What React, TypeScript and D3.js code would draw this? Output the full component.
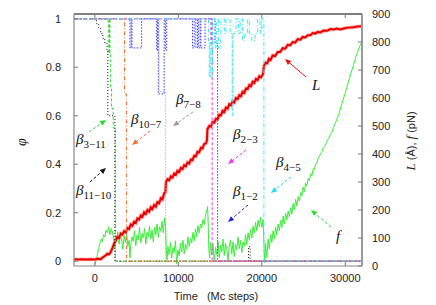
import React from 'react';
import * as d3 from 'd3';

// time axis (Mc steps)
const timeTicks = [0, 10000, 20000, 30000];
const phiTicks = [0, 0.2, 0.4, 0.6, 0.8, 1];
const rightTicks = [0, 100, 200, 300, 400, 500, 600, 700, 800, 900];

// L (Angstrom) vs time
const lengthData: [number, number][] = [
  [-2500, 24], [-2000, 23], [-1500, 24], [-1000, 23], [-500, 24], [0, 23], [400, 26], [700, 24],
  [900, 30], [1100, 34], [1300, 38], [1500, 44], [1700, 42], [1900, 50], [2100, 64], [2300, 80],
  [2500, 90], [2700, 104], [2900, 100], [3100, 116], [3300, 112], [3500, 124], [3700, 120],
  [3900, 136], [4100, 132], [4300, 148], [4500, 144], [4700, 158], [4900, 154], [5100, 170],
  [5300, 166], [5500, 180], [5700, 176], [5900, 192], [6100, 186], [6300, 200], [6500, 194],
  [6700, 210], [6900, 204], [7100, 218], [7300, 212], [7500, 228], [7700, 224], [7900, 242],
  [8100, 238], [8300, 260], [8450, 264], [8520, 300], [8700, 310], [8900, 306], [9100, 320],
  [9300, 316], [9500, 330], [9700, 326], [9900, 340], [10100, 336], [10300, 350], [10500, 346],
  [10700, 360], [10900, 356], [11100, 370], [11300, 366], [11500, 380], [11700, 378],
  [11900, 394], [12100, 392], [12300, 408], [12500, 406], [12700, 422], [12900, 420],
  [13100, 436], [13300, 438], [13420, 448], [13480, 488], [13700, 500], [13900, 498],
  [14100, 514], [14300, 512], [14500, 526], [14700, 524], [14900, 540], [15100, 538],
  [15300, 554], [15500, 550], [15700, 566], [15900, 562], [16100, 578], [16300, 574],
  [16500, 588], [16700, 584], [16900, 600], [17100, 596], [17300, 610], [17500, 606],
  [17700, 622], [17900, 618], [18100, 634], [18300, 632], [18500, 646], [18700, 642],
  [18900, 658], [19100, 654], [19300, 668], [19500, 664], [19700, 678], [19900, 674],
  [20150, 686], [20250, 714], [20450, 726], [20650, 724], [20850, 740], [21050, 736],
  [21300, 752], [21600, 750], [21900, 764], [22200, 764], [22500, 778], [22800, 776],
  [23100, 790], [23400, 788], [23700, 800], [24000, 798], [24300, 810], [24600, 808],
  [24900, 818], [25200, 816], [25500, 824], [25800, 824], [26100, 832], [26400, 830],
  [26700, 836], [27000, 834], [27400, 841], [27800, 840], [28200, 846], [28600, 845],
  [29000, 848], [29400, 845], [29800, 848], [30200, 851], [30600, 852], [31000, 853],
  [31400, 855], [32000, 856],
];

// f (pN) vs time
const forceData: [number, number][] = [
  [0, 5], [150, 20], [300, 40], [450, 62], [600, 80], [750, 96], [900, 88], [1050, 112],
  [1200, 104], [1350, 128], [1500, 118], [1650, 140], [1800, 112], [1950, 134], [2100, 122],
  [2250, 98], [2350, 62], [2450, 104], [2600, 86], [2750, 122], [2900, 78], [3050, 112],
  [3200, 96], [3350, 60], [3500, 108], [3650, 84], [3800, 118], [3950, 70], [4100, 92],
  [4200, 28], [4300, 76], [4450, 104], [4600, 88], [4750, 126], [4900, 72], [5050, 110],
  [5200, 94], [5350, 138], [5500, 82], [5650, 116], [5800, 100], [5950, 134], [6100, 78],
  [6250, 120], [6400, 104], [6550, 142], [6700, 96], [6850, 128], [7000, 86], [7150, 138],
  [7300, 112], [7450, 150], [7600, 102], [7750, 140], [7900, 124], [8050, 160], [8200, 118],
  [8350, 172], [8480, 140], [8550, 60], [8650, 22], [8750, 70], [8900, 40], [9050, 84],
  [9200, 28], [9350, 66], [9500, 48], [9650, 90], [9800, 8], [9950, 58], [10100, 36],
  [10250, 82], [10400, 50], [10550, 92], [10700, 44], [10850, 78], [11000, 60], [11150, 104],
  [11300, 70], [11450, 98], [11600, 82], [11750, 120], [11900, 90], [12050, 132], [12200, 104],
  [12350, 144], [12500, 118], [12650, 150], [12800, 136], [12950, 166], [13100, 148],
  [13250, 182], [13400, 196], [13500, 212], [13580, 150], [13650, 60], [13750, 28],
  [13850, 84], [14000, 40], [14150, 78], [14300, 18], [14450, 66], [14600, 40], [14750, 88],
  [14900, 30], [15050, 74], [15200, 50], [15350, 96], [15500, 38], [15650, 82], [15800, 60],
  [15950, 20], [16100, 70], [16250, 92], [16400, 44], [16550, 86], [16700, 34], [16850, 78],
  [17000, 58], [17150, 104], [17300, 62], [17450, 92], [17600, 48], [17750, 86], [17900, 70],
  [18050, 112], [18200, 76], [18350, 118], [18500, 92], [18650, 130], [18800, 100],
  [18950, 142], [19100, 118], [19250, 156], [19400, 126], [19550, 164], [19700, 140],
  [19850, 174], [20000, 138], [20150, 166], [20280, 60], [20350, 12], [20450, 80], [20600, 30],
  [20750, 96], [20900, 60], [21050, 112], [21200, 84], [21350, 126], [21500, 96], [21650, 140],
  [21800, 110], [21950, 150], [22100, 126], [22250, 162], [22400, 138], [22550, 178],
  [22700, 150], [22850, 188], [23000, 164], [23150, 196], [23300, 176], [23450, 208],
  [23600, 186], [23750, 224], [23900, 200], [24050, 238], [24200, 214], [24350, 248],
  [24500, 232], [24650, 262], [24800, 250], [24950, 282], [25100, 266], [25250, 296],
  [25400, 286], [25550, 312], [25700, 304], [25850, 330], [26000, 322], [26150, 348],
  [26300, 344], [26450, 366], [26600, 368], [26750, 386], [26900, 392], [27050, 402],
  [27200, 408], [27400, 425], [27600, 430], [27800, 445], [28000, 455], [28200, 470],
  [28400, 478], [28600, 495], [28800, 510], [29000, 525], [29200, 540], [29400, 560],
  [29600, 580], [29800, 600], [30000, 618], [30200, 640], [30400, 660], [30600, 680],
  [30800, 700], [31000, 720], [31200, 740], [31400, 760], [31600, 775], [31800, 790],
  [32000, 800],
];

// fraction of native contacts phi for each beta pair (step data)
const beta311: [number, number][] = [
  [-2500, 1], [1600, 0.86], [1750, 1], [1800, 0.86], [1900, 0.71], [2000, 0.63], [2200, 0.55],
  [2450, 0], [32000, 0],
];
const beta1110: [number, number][] = [
  [-2500, 1], [200, 0.98], [450, 0.96], [700, 0.94], [950, 0.92], [1200, 0.9], [1450, 0.87],
  [1550, 0.6], [2400, 0], [18400, 0.06], [18600, 0], [32000, 0],
];
const beta107: [number, number][] = [[-2500, 1], [3550, 0.69], [3780, 0], [32000, 0]];
const beta78: [number, number][] = [[-2500, 1], [7700, 0.7], [8450, 0], [32000, 0]];
const beta12: [number, number][] = [
  [-2500, 1], [4200, 0.88], [4350, 1], [4450, 0.88], [5600, 1], [7400, 0.87], [7500, 1],
  [7600, 0.69], [8300, 1], [8450, 0.87], [8600, 1], [11700, 0.88], [11900, 1], [12100, 0.88],
  [12300, 1], [12400, 0.88], [12600, 1], [12700, 0.88], [13200, 1], [14400, 0.9], [14700, 0],
  [32000, 0],
];
const beta23: [number, number][] = [[-2500, 1], [13900, 0.9], [14000, 1], [14050, 0], [32000, 0]];
const beta45: [number, number][] = [
  [-2500, 1], [13600, 0.9], [13700, 0.76], [13800, 0.9], [13900, 0.76], [14100, 1],
  [14400, 0.88], [14600, 1], [14800, 0.88], [15100, 1], [15500, 0.94], [15700, 1],
  [16200, 0.94], [16450, 0.6], [16550, 0.94], [16900, 1], [17200, 0.94], [17400, 1],
  [17700, 0.91], [17900, 0.94], [18300, 1], [18500, 0.94], [18800, 0.91], [19200, 0.94],
  [19500, 1], [19800, 0.94], [20000, 1], [20250, 0], [32000, 0],
];

const W = 436;
const H = 305;
const plot = { left: 74, right: 362, top: 14, bottom: 266 };

const xScale = d3.scaleLinear().domain([-2500, 32000]).range([plot.left, plot.right]);
const phiScale = d3.scaleLinear().domain([-0.02, 1.02]).range([plot.bottom, plot.top]);
const rScale = d3.scaleLinear().domain([0, 900]).range([plot.bottom, plot.top]);

const stepLine = d3.line<[number, number]>()
  .x(d => xScale(d[0]))
  .y(d => phiScale(d[1]))
  .curve(d3.curveStepAfter);

const rLine = d3.line<[number, number]>()
  .x(d => xScale(d[0]))
  .y(d => rScale(d[1]));

const betaSeries = [
  { data: beta311, color: '#22dd22', dash: '3,2' },
  { data: beta1110, color: '#111111', dash: '1,2' },
  { data: beta12, color: '#3a3aff', dash: '1.5,1.5' },
  { data: beta78, color: '#999999', dash: '1,2' },
  { data: beta23, color: '#ff33ff', dash: '3,2' },
  { data: beta107, color: '#ff6a33', dash: '4,2,1,2' },
  { data: beta45, color: '#33e8f0', dash: '4,2,1,2' },
];

// annotation labels: text position and arrow (from -> to), in pixels
const notes = [
  { label: 'β', sub: '3−11', tx: 76, ty: 144, a: [89, 132, 106, 120], color: '#22dd22', dash: '3,2' },
  { label: 'β', sub: '11−10', tx: 76, ty: 195, a: [90, 182, 106, 168], color: '#111111', dash: '3,2' },
  { label: 'β', sub: '10−7', tx: 131, ty: 124, a: [150, 131, 132, 145], color: '#ff6a33', dash: '3,2' },
  { label: 'β', sub: '7−8', tx: 176, ty: 104, a: [193, 112, 173, 126], color: '#999999', dash: '3,2' },
  { label: 'L', sub: '', tx: 312, ty: 90, a: [306, 77, 285, 59], color: '#ee1111', dash: '' },
  { label: 'β', sub: '2−3', tx: 233, ty: 139, a: [246, 150, 228, 164], color: '#ff33ff', dash: '3,2' },
  { label: 'β', sub: '1−2', tx: 233, ty: 196, a: [248, 205, 228, 222], color: '#2020dd', dash: '3,2' },
  { label: 'β', sub: '4−5', tx: 276, ty: 167, a: [291, 177, 271, 193], color: '#22ddee', dash: '3,2' },
  { label: 'f', sub: '', tx: 336, ty: 241, a: [331, 227, 311, 210], color: '#22dd22', dash: '3,2' },
];

const serif = "'Liberation Serif', 'DejaVu Serif', serif";
const sans = "'Liberation Sans', Arial, sans-serif";

function Arrow({ a, color, dash }: { a: number[]; color: string; dash: string }) {
  const [x1, y1, x2, y2] = a;
  const ang = Math.atan2(y2 - y1, x2 - x1);
  const len = 6;
  const wid = 2.6;
  const bx = x2 - len * Math.cos(ang);
  const by = y2 - len * Math.sin(ang);
  const px = -Math.sin(ang) * wid;
  const py = Math.cos(ang) * wid;
  return (
    <g>
      <line x1={x1} y1={y1} x2={bx} y2={by} stroke={color} strokeWidth={1} strokeDasharray={dash || undefined} />
      <polygon points={`${x2},${y2} ${bx + px},${by + py} ${bx - px},${by - py}`} fill={color} />
    </g>
  );
}

export default function App() {
  return (
    <svg width={W} height={H} style={{ position: 'absolute', left: 0, top: 0, background: '#fff' }}>
      <defs>
        <clipPath id="plotClip">
          <rect x={plot.left} y={plot.top} width={plot.right - plot.left} height={plot.bottom - plot.top} />
        </clipPath>
      </defs>

      <g clipPath="url(#plotClip)">
        {/* force */}
        <path d={rLine(forceData) || ''} fill="none" stroke="#3aee3a" strokeWidth={1} />
        {/* length band */}
        <path d={rLine(lengthData) || ''} fill="none" stroke="#ff7a7a" strokeWidth={3.6} strokeOpacity={0.6} />
        <path d={rLine(lengthData) || ''} fill="none" stroke="#ee0000" strokeWidth={2} />
        {/* beta contacts */}
        {betaSeries.map((s, i) => (
          <path key={i} d={stepLine(s.data) || ''} fill="none" stroke={s.color} strokeWidth={1} strokeDasharray={s.dash} />
        ))}
      </g>

      {/* frame */}
      <line x1={plot.left} y1={plot.top} x2={plot.right} y2={plot.top} stroke="#000" strokeWidth={1} />
      <line x1={plot.left} y1={plot.top} x2={plot.left} y2={plot.bottom} stroke="#888" strokeWidth={1.2} />
      <line x1={plot.left} y1={plot.bottom} x2={plot.right} y2={plot.bottom} stroke="#888" strokeWidth={1.2} />
      <line x1={plot.right} y1={plot.top} x2={plot.right} y2={plot.bottom} stroke="#999" strokeWidth={2} />

      {/* x ticks */}
      {timeTicks.map(t => (
        <g key={t}>
          <line x1={xScale(t)} x2={xScale(t)} y1={plot.bottom} y2={plot.bottom - 4} stroke="#777" />
          <line x1={xScale(t)} x2={xScale(t)} y1={plot.top} y2={plot.top + 4} stroke="#777" />
          <text x={xScale(t)} y={plot.bottom + 16} textAnchor="middle" fontFamily={sans} fontSize={11} fill="#222">{t}</text>
        </g>
      ))}

      {/* left ticks */}
      {phiTicks.map(p => (
        <g key={p}>
          <line x1={plot.left} x2={plot.left + 4} y1={phiScale(p)} y2={phiScale(p)} stroke="#777" />
          <text x={plot.left - 13} y={phiScale(p) + 4} textAnchor="end" fontFamily={sans} fontSize={11} fill="#222">{p}</text>
        </g>
      ))}

      {/* right ticks */}
      {rightTicks.map(v => (
        <g key={v}>
          <line x1={plot.right - 4} x2={plot.right} y1={rScale(v)} y2={rScale(v)} stroke="#777" />
          <text x={plot.right + 10} y={rScale(v) + 4} textAnchor="start" fontFamily={sans} fontSize={11} fill="#222">{v}</text>
        </g>
      ))}

      {/* axis titles */}
      <text transform="translate(26,142) rotate(-90)" textAnchor="middle" fontFamily={serif} fontStyle="italic" fontSize={14} fill="#111">φ</text>
      <text x={216} y={300} textAnchor="middle" fontFamily={sans} fontSize={11} fill="#222" style={{ whiteSpace: 'pre' }}>
        {'Time   (Mc steps)'}
      </text>
      <text transform="translate(415,141) rotate(-90)" textAnchor="middle" fontSize={11} fill="#222">
        <tspan fontFamily={serif} fontStyle="italic" fontSize={13}>L</tspan>
        <tspan fontFamily={sans}>{' (Å),  '}</tspan>
        <tspan fontFamily={serif} fontStyle="italic" fontSize={13}>f</tspan>
        <tspan fontFamily={sans}>{' (pN)'}</tspan>
      </text>

      {/* annotations */}
      {notes.map((n, i) => (
        <g key={i}>
          <Arrow a={n.a} color={n.color} dash={n.dash} />
          <text x={n.tx} y={n.ty} fontFamily={serif} fontStyle="italic" fontSize={15} fill="#111">
            {n.label}
            {n.sub && (
              <tspan dy={4} fontStyle="normal" fontSize={11}>{n.sub}</tspan>
            )}
          </text>
        </g>
      ))}
    </svg>
  );
}
